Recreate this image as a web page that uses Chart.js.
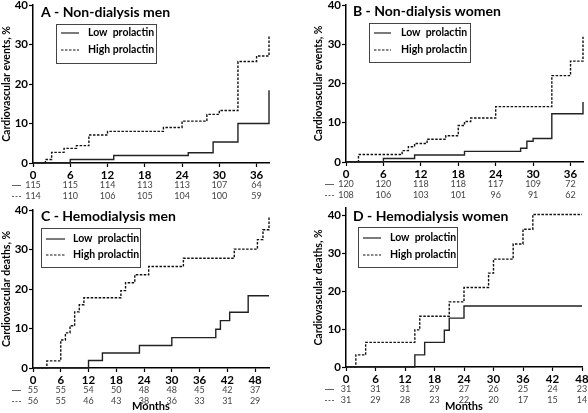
<!DOCTYPE html>
<html lang="en">
<head>
<meta charset="UTF-8">
<title>Prolactin and cardiovascular outcomes</title>
<script src="https://cdn.jsdelivr.net/npm/chart.js"></script>
<style>
  body { margin: 0; background: #fff; }
  #wrap { position: relative; width: 588px; height: 413px; }
  canvas { position: absolute; }
</style>
</head>
<body>
<div id="wrap">
  <canvas id="panelA" width="294" height="205" style="left:0;top:0"></canvas>
  <canvas id="panelB" width="294" height="205" style="left:294px;top:0"></canvas>
  <canvas id="panelC" width="294" height="208" style="left:0;top:205px"></canvas>
  <canvas id="panelD" width="294" height="208" style="left:294px;top:205px"></canvas>
</div>

<script>
// ---- data (months, cumulative %) ----
const yTicks = [0, 10, 20, 30, 40];
const ticks38 = [0, 6, 12, 18, 24, 30, 36];
const ticks48 = [0, 6, 12, 18, 24, 30, 36, 42, 48];

// A - Non-dialysis men
const aLowMonths = [0, 6, 13, 25, 29, 33, 38];
const aLowPct = [0, 0.9, 1.9, 2.6, 5.3, 10.0, 18.4];
const aHighMonths = [0, 2, 3, 5, 7, 9, 12, 21, 24, 28, 30, 33, 36, 38];
const aHighPct = [0, 0.9, 2.7, 3.7, 4.4, 7.1, 8.0, 9.0, 10.6, 12.3, 13.3, 25.7, 27.1, 32.4];
const aRiskLow = [115, 115, 114, 113, 113, 107, 64];
const aRiskHigh = [114, 110, 106, 105, 104, 100, 59];

// B - Non-dialysis women
const bLowMonths = [0, 6, 11, 19, 28, 29, 30, 33, 38];
const bLowPct = [0, 0.9, 1.8, 2.7, 3.5, 5.3, 6.0, 12.3, 15.3];
const bHighMonths = [0, 2, 9, 10, 11, 13, 16, 18, 19, 20, 24, 33, 36, 38];
const bHighPct = [0, 1.9, 2.9, 3.9, 4.7, 5.8, 6.7, 9.3, 10.3, 11.2, 14.1, 22.0, 25.7, 31.9];
const bRiskLow = [120, 120, 118, 118, 117, 109, 72];
const bRiskHigh = [108, 106, 103, 101, 96, 91, 62];

// C - Hemodialysis men
const cLowMonths = [0, 12, 15, 23, 30, 39.5, 40.5, 42.5, 46.5, 51];
const cLowPct = [0, 1.9, 3.8, 5.7, 7.7, 9.8, 12.0, 14.1, 18.3, 18.3];
const cHighMonths = [0, 3, 6, 7, 8, 9, 10, 11, 19, 20, 22, 25, 32.5, 43.5, 48.5, 49.7, 51];
const cHighPct = [0, 1.8, 7.1, 8.9, 10.7, 14.2, 16.0, 17.8, 19.6, 21.6, 23.6, 25.7, 27.8, 30.1, 32.5, 35.0, 38.5];
const cRiskLow = [55, 55, 54, 50, 48, 48, 45, 42, 37];
const cRiskHigh = [56, 55, 46, 43, 38, 36, 33, 31, 29];

// D - Hemodialysis women
const dLowMonths = [0, 14, 16, 20, 21, 24, 48];
const dLowPct = [0, 3.2, 6.5, 9.7, 12.9, 16.1, 16.1];
const dHighMonths = [0, 2, 4, 14, 15, 21, 24, 29, 30, 34, 36, 38, 48];
const dHighPct = [0, 3.2, 6.5, 9.8, 13.4, 17.2, 21.0, 24.8, 28.5, 32.5, 36.4, 40.3, 40.3];
const dRiskLow = [31, 31, 31, 29, 27, 26, 25, 24, 23];
const dRiskHigh = [31, 29, 28, 23, 22, 20, 17, 15, 14];

const FONT = 'Lato, "Open Sans", sans-serif';

function pts(months, pct) {
  return months.map((m, i) => ({ x: m, y: pct[i] }));
}

// title, legend and number-at-risk rows
const kmExtras = {
  id: 'kmExtras',
  afterDraw(chart, args, o) {
    const ctx = chart.ctx;
    const area = chart.chartArea;
    const xs = chart.scales.x;
    ctx.save();

    ctx.fillStyle = '#000';
    ctx.font = 'bold 14px ' + FONT;
    ctx.textBaseline = 'middle';
    ctx.textAlign = 'left';
    ctx.fillText(o.title, o.titleX, o.titleY);

    // legend box
    const lb = o.legend;
    ctx.strokeStyle = '#444';
    ctx.lineWidth = 1;
    ctx.strokeRect(lb.x + 0.5, lb.y + 0.5, lb.w, lb.h);
    ctx.font = 'bold 10.5px ' + FONT;
    chart.data.datasets.forEach((ds, i) => {
      const y = lb.rows[i];
      ctx.strokeStyle = ds.borderColor;
      ctx.lineWidth = 1.2;
      ctx.setLineDash(ds.borderDash || []);
      ctx.beginPath();
      ctx.moveTo(lb.lineX1, y);
      ctx.lineTo(lb.lineX2, y);
      ctx.stroke();
      ctx.setLineDash([]);
      ctx.fillStyle = '#000';
      ctx.fillText(ds.label, lb.textX, y);
    });

    // number at risk
    ctx.font = '9px ' + FONT;
    ctx.fillStyle = '#444';
    ctx.textAlign = 'center';
    const rows = [o.riskLow, o.riskHigh];
    rows.forEach((row, r) => {
      const y = area.bottom + (r === 0 ? 22.5 : 33.5);
      ctx.strokeStyle = '#666';
      ctx.lineWidth = 1;
      ctx.setLineDash(r === 0 ? [] : [2, 1.5]);
      ctx.beginPath();
      ctx.moveTo(area.left - 21, y);
      ctx.lineTo(area.left - 12, y);
      ctx.stroke();
      ctx.setLineDash([]);
      row.forEach((n, i) => {
        ctx.fillText(String(n), xs.getPixelForValue(o.ticks[i]), y);
      });
    });
    ctx.restore();
  }
};

function makePanel(id, p) {
  const lineBase = { pointRadius: 0, borderWidth: 1.4, stepped: 'before', fill: false, clip: 4 };
  new Chart(document.getElementById(id), {
    type: 'line',
    data: {
      datasets: [
        Object.assign({ label: 'Low  prolactin', data: pts(p.lowMonths, p.lowPct), borderColor: '#222' }, lineBase),
        Object.assign({ label: 'High prolactin', data: pts(p.highMonths, p.highPct), borderColor: '#111', borderDash: [2.5, 1.5] }, lineBase)
      ]
    },
    options: {
      responsive: false,
      animation: false,
      devicePixelRatio: 1,
      layout: { padding: { left: p.padLeft, right: p.padRight, top: p.padTop, bottom: 0 } },
      plugins: {
        legend: { display: false },
        tooltip: { enabled: false },
        kmExtras: {
          title: p.title, titleX: p.titleX, titleY: p.titleY,
          legend: p.legend, riskLow: p.riskLow, riskHigh: p.riskHigh, ticks: p.xTicks
        }
      },
      scales: {
        x: {
          type: 'linear', min: 0, max: p.xMax,
          afterBuildTicks: s => { s.ticks = p.xTicks.map(v => ({ value: v })); },
          afterFit: s => { s.height = p.xHeight; s.paddingLeft = 0; s.paddingRight = 0; },
          border: { display: true, color: '#000', width: 1.5 },
          grid: { drawOnChartArea: false, drawTicks: true, tickLength: 4, tickColor: '#000', tickWidth: 1.2 },
          ticks: { color: '#000', padding: 1, maxRotation: 0, autoSkip: false, font: { family: FONT, size: 11.5, weight: 'bold' } },
          title: { display: p.showMonths, text: 'Months', color: '#000', padding: 0, font: { family: FONT, size: 11, weight: 'bold' } }
        },
        y: {
          min: 0, max: p.yMax,
          afterBuildTicks: s => { s.ticks = yTicks.map(v => ({ value: v })); },
          afterFit: s => { s.width = p.yWidth; s.paddingTop = 0; s.paddingBottom = 0; },
          border: { display: true, color: '#000', width: 1.5 },
          grid: { drawOnChartArea: false, drawTicks: true, tickLength: 4, tickColor: '#000', tickWidth: 1.2 },
          ticks: { color: '#000', padding: 1, font: { family: FONT, size: 11.5, weight: 'bold' } },
          title: { display: true, text: p.yTitle, color: '#000', padding: 0, font: { family: FONT, size: 10.5, weight: 'bold' } }
        }
      }
    },
    plugins: [kmExtras]
  });
}

makePanel('panelA', {
  lowMonths: aLowMonths, lowPct: aLowPct, highMonths: aHighMonths, highPct: aHighPct,
  riskLow: aRiskLow, riskHigh: aRiskHigh, xTicks: ticks38, xMax: 38, yMax: 40,
  title: 'A - Non-dialysis men', titleX: 41, titleY: 12,
  yTitle: 'Cardiovascular events, %', showMonths: false,
  padLeft: 0, padRight: 25, padTop: 5, yWidth: 33, xHeight: 42,
  legend: { x: 56, y: 24, w: 100, h: 39, lineX1: 61, lineX2: 79, textX: 88, rows: [33, 50] }
});

makePanel('panelB', {
  lowMonths: bLowMonths, lowPct: bLowPct, highMonths: bHighMonths, highPct: bHighPct,
  riskLow: bRiskLow, riskHigh: bRiskHigh, xTicks: ticks38, xMax: 38, yMax: 40,
  title: 'B - Non-dialysis women', titleX: 59, titleY: 11,
  yTitle: 'Cardiovascular events, %', showMonths: false,
  padLeft: 18, padRight: 5, padTop: 5, yWidth: 34, xHeight: 43,
  legend: { x: 75, y: 23, w: 101, h: 39, lineX1: 80, lineX2: 97, textX: 107, rows: [33, 50] }
});

makePanel('panelC', {
  lowMonths: cLowMonths, lowPct: cLowPct, highMonths: cHighMonths, highPct: cHighPct,
  riskLow: cRiskLow, riskHigh: cRiskHigh, xTicks: ticks48, xMax: 51, yMax: 40,
  title: 'C - Hemodialysis men', titleX: 41, titleY: 11,
  yTitle: 'Cardiovascular deaths, %', showMonths: true,
  padLeft: 0, padRight: 25, padTop: 5, yWidth: 33, xHeight: 45,
  legend: { x: 41, y: 23, w: 99, h: 39, lineX1: 46, lineX2: 65, textX: 73, rows: [34, 50] }
});

makePanel('panelD', {
  lowMonths: dLowMonths, lowPct: dLowPct, highMonths: dHighMonths, highPct: dHighPct,
  riskLow: dRiskLow, riskHigh: dRiskHigh, xTicks: ticks48, xMax: 48, yMax: 42,
  title: 'D - Hemodialysis women', titleX: 59, titleY: 11,
  yTitle: 'Cardiovascular deaths, %', showMonths: true,
  padLeft: 18, padRight: 6, padTop: 3, yWidth: 34, xHeight: 46,
  legend: { x: 64, y: 22, w: 99, h: 40, lineX1: 69, lineX2: 87, textX: 96, rows: [33, 50] }
});
</script>
</body>
</html>
